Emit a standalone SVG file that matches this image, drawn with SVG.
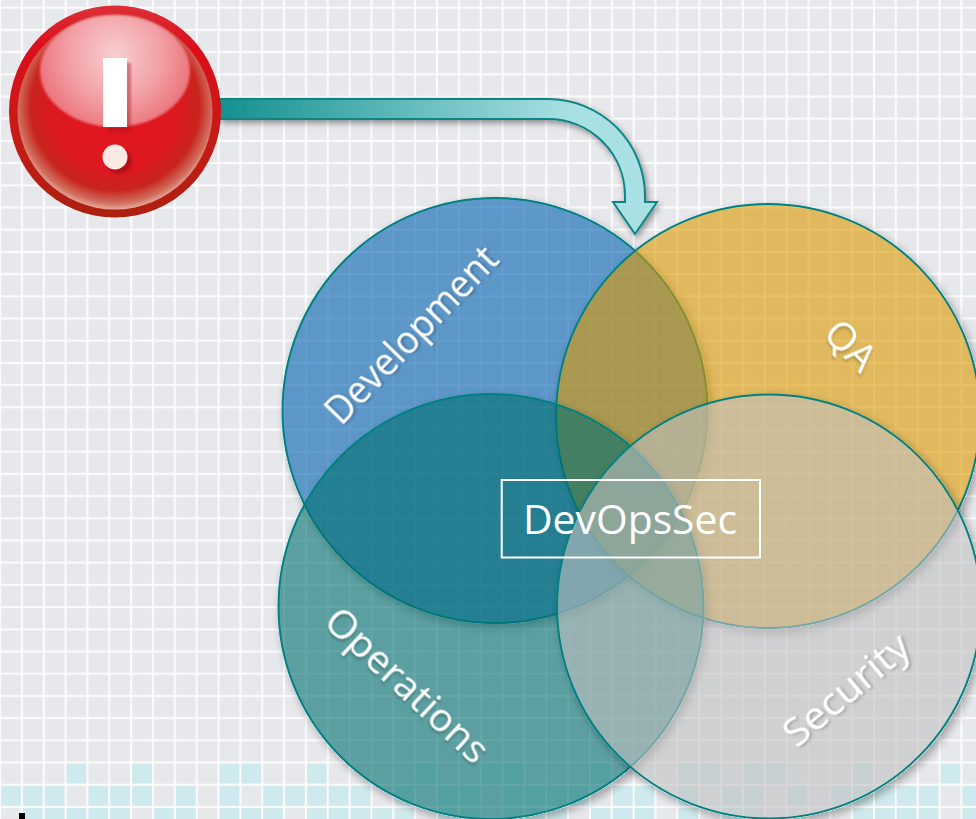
<svg xmlns="http://www.w3.org/2000/svg" width="976" height="819" viewBox="0 0 976 819">
<style>
.lbl{font-family:"Open Sans","Noto Sans","Liberation Sans",sans-serif;font-size:39px;fill:#fff;text-anchor:middle;filter:url(#ts)}
.circ{stroke:#008080;stroke-width:2;fill-opacity:.6;filter:url(#cs)}
</style>
<defs>
<pattern id="grid" width="21.85" height="22.2" patternUnits="userSpaceOnUse" y="7.7">
<rect width="21.85" height="22.2" fill="#e7e8ec"/>
<rect x="0" y="0" width="1.1" height="22.2" fill="#fbfbfc"/><rect x="20.8" y="0" width="1.05" height="22.2" fill="#fbfbfc"/>
<rect x="0" y="0" width="21.85" height="1.1" fill="#fbfbfc"/><rect x="0" y="21.1" width="21.85" height="1.1" fill="#fbfbfc"/>
</pattern>
<filter id="cs" x="-10%" y="-10%" width="125%" height="125%">
<feColorMatrix in="SourceAlpha" type="matrix" values="0 0 0 0 0 0 0 0 0 0 0 0 0 0 0 0 0 0 50 0" result="solid"/>
<feGaussianBlur in="solid" stdDeviation="4"/><feOffset dx="3" dy="4" result="b"/>
<feComponentTransfer in="b" result="c"><feFuncA type="linear" slope=".3"/></feComponentTransfer>
<feComposite in="c" in2="solid" operator="out" result="d"/>
<feMerge><feMergeNode in="d"/><feMergeNode in="SourceGraphic"/></feMerge>
</filter>
<filter id="ts" x="-20%" y="-40%" width="140%" height="180%"><feDropShadow dx="1.5" dy="2" stdDeviation="1.5" flood-color="#000" flood-opacity=".25"/></filter>
<filter id="as" x="-5%" y="-10%" width="110%" height="125%"><feDropShadow dx="2" dy="3" stdDeviation="3" flood-color="#000" flood-opacity=".4"/></filter>
<filter id="soft" x="-20%" y="-20%" width="140%" height="140%"><feGaussianBlur stdDeviation="1"/></filter>
<linearGradient id="ag" gradientUnits="userSpaceOnUse" x1="220" y1="0" x2="570" y2="0"><stop offset="0" stop-color="#14908f"/><stop offset="1" stop-color="#a8e0e3"/></linearGradient>
<linearGradient id="rim" x1="0" y1="0" x2="0" y2="1"><stop offset="0" stop-color="#dd3038"/><stop offset=".2" stop-color="#dc0e1a"/><stop offset=".6" stop-color="#c81a16"/><stop offset="1" stop-color="#ac2010"/></linearGradient>
<radialGradient id="body" cx=".5" cy=".47" r=".54"><stop offset="0" stop-color="#e4141f"/><stop offset=".6" stop-color="#dc1820"/><stop offset=".8" stop-color="#c8241e"/><stop offset=".92" stop-color="#d06e5e"/><stop offset="1" stop-color="#eebcae"/></radialGradient>
<radialGradient id="glare" gradientUnits="userSpaceOnUse" cx="115" cy="55" r="85"><stop offset="0" stop-color="#f8cfd0"/><stop offset=".55" stop-color="#f2a0a6"/><stop offset="1" stop-color="#ea6a72"/></radialGradient>
</defs>
<rect id="background" width="976" height="819" fill="url(#grid)"/>
<g id="cells" fill="#cfeaee">
<path d="M66.7 763.7h19.5v19.5h-19.5zM132.2 763.7h19.5v19.5h-19.5zM219.7 763.7h19.5v19.5h-19.5zM241.5 763.7h19.5v19.5h-19.5zM307 763.7h19.5v19.5h-19.5zM416.3 763.7h19.5v19.5h-19.5zM481.8 763.7h19.5v19.5h-19.5zM503.7 763.7h19.5v19.5h-19.5zM591 763.7h19.5v19.5h-19.5zM678.5 763.7h19.5v19.5h-19.5zM700.3 763.7h19.5v19.5h-19.5zM744 763.7h19.5v19.5h-19.5zM765.8 763.7h19.5v19.5h-19.5zM853.2 763.7h19.5v19.5h-19.5zM940.7 763.7h19.5v19.5h-19.5z"/>
<path d="M1.2 785.9h19.5v19.5h-19.5zM23 785.9h19.5v19.5h-19.5zM44.9 785.9h19.5v19.5h-19.5zM88.6 785.9h19.5v19.5h-19.5zM110.4 785.9h19.5v19.5h-19.5zM132.2 785.9h19.5v19.5h-19.5zM176 785.9h19.5v19.5h-19.5zM219.7 785.9h19.5v19.5h-19.5zM263.4 785.9h19.5v19.5h-19.5zM285.2 785.9h19.5v19.5h-19.5zM307 785.9h19.5v19.5h-19.5zM328.9 785.9h19.5v19.5h-19.5zM350.8 785.9h19.5v19.5h-19.5zM394.5 785.9h19.5v19.5h-19.5zM438.2 785.9h19.5v19.5h-19.5zM460 785.9h19.5v19.5h-19.5zM503.7 785.9h19.5v19.5h-19.5zM525.5 785.9h19.5v19.5h-19.5zM547.3 785.9h19.5v19.5h-19.5zM569.2 785.9h19.5v19.5h-19.5zM612.9 785.9h19.5v19.5h-19.5zM634.7 785.9h19.5v19.5h-19.5zM678.5 785.9h19.5v19.5h-19.5zM722.2 785.9h19.5v19.5h-19.5zM744 785.9h19.5v19.5h-19.5zM787.7 785.9h19.5v19.5h-19.5zM831.4 785.9h19.5v19.5h-19.5zM853.2 785.9h19.5v19.5h-19.5zM875 785.9h19.5v19.5h-19.5zM896.8 785.9h19.5v19.5h-19.5zM918.7 785.9h19.5v19.5h-19.5zM962.5 785.9h13.5v19.5h-13.5z"/>
<path d="M23 808.1h19.5v10.9h-19.5zM44.9 808.1h19.5v10.9h-19.5zM66.7 808.1h19.5v10.9h-19.5zM88.6 808.1h19.5v10.9h-19.5zM110.4 808.1h19.5v10.9h-19.5zM154 808.1h19.5v10.9h-19.5zM176 808.1h19.5v10.9h-19.5zM219.7 808.1h19.5v10.9h-19.5zM241.5 808.1h19.5v10.9h-19.5zM263.4 808.1h19.5v10.9h-19.5zM307 808.1h19.5v10.9h-19.5zM328.9 808.1h19.5v10.9h-19.5zM350.8 808.1h19.5v10.9h-19.5zM372.6 808.1h19.5v10.9h-19.5zM394.5 808.1h19.5v10.9h-19.5zM438.2 808.1h19.5v10.9h-19.5zM460 808.1h19.5v10.9h-19.5zM503.7 808.1h19.5v10.9h-19.5zM525.5 808.1h19.5v10.9h-19.5zM547.3 808.1h19.5v10.9h-19.5zM591 808.1h19.5v10.9h-19.5zM612.9 808.1h19.5v10.9h-19.5zM634.7 808.1h19.5v10.9h-19.5zM678.5 808.1h19.5v10.9h-19.5zM722.2 808.1h19.5v10.9h-19.5zM744 808.1h19.5v10.9h-19.5zM853.2 808.1h19.5v10.9h-19.5zM875 808.1h19.5v10.9h-19.5zM896.8 808.1h19.5v10.9h-19.5zM918.7 808.1h19.5v10.9h-19.5zM962.5 808.1h13.5v10.9h-13.5z"/>
</g>
<rect id="mark" x="19" y="813" width="6" height="6" fill="#000"/>
<g id="connectors">
<path d="M220 99H548A97 97 0 0 1 645 196V202H657L635 234L613 202H625V196A77 77 0 0 0 548 119H220Z" fill="url(#ag)" stroke="#0f8585" stroke-width="2" stroke-linejoin="miter" filter="url(#as)"/>
</g>
<g id="alert">
<circle cx="115" cy="111.5" r="106" fill="url(#rim)"/>
<circle cx="115" cy="112" r="97.5" fill="url(#body)"/>
<ellipse cx="115" cy="71" rx="75" ry="56" fill="url(#glare)" filter="url(#soft)"/>
<rect x="107" y="63" width="24" height="69" fill="#a81018" opacity=".4" filter="url(#soft)"/>
<circle cx="119" cy="161" r="12.5" fill="#a01018" opacity=".7" filter="url(#soft)"/>
<rect x="103" y="58" width="24" height="69" fill="#fff"/>
<circle cx="115" cy="157" r="12.5" fill="#fbeae4"/>
</g>
<g id="development"><circle class="circ" cx="495" cy="410.5" r="212.5" fill="#0061b0"/></g>
<g id="qa"><circle class="circ" cx="768" cy="416" r="212" fill="#dc9900"/></g>
<g id="operations"><circle class="circ" cx="491" cy="606.5" r="212.5" fill="#056e6e"/></g>
<g id="security"><circle class="circ" cx="769" cy="606.5" r="212" fill="#c0c0c0"/></g>
<g id="labels">
<text class="lbl" transform="translate(421 344) rotate(-46)" textLength="230" lengthAdjust="spacingAndGlyphs">Development</text>
<text class="lbl" transform="translate(841 355) rotate(45)">QA</text>
<text class="lbl" transform="translate(398 695) rotate(43)" textLength="208" lengthAdjust="spacingAndGlyphs">Operations</text>
<text class="lbl" transform="translate(855 700) rotate(-40)" textLength="152" lengthAdjust="spacingAndGlyphs">Security</text>
</g>
<g id="devopssec">
<rect x="501.7" y="480" width="258.3" height="77.5" fill="none" stroke="#fff" stroke-width="2"/>
<text x="630" y="534" text-anchor="middle" font-family="'Open Sans','Noto Sans','Liberation Sans',sans-serif" font-size="41" fill="#fff" textLength="214" lengthAdjust="spacingAndGlyphs">DevOpsSec</text>
</g>
</svg>
